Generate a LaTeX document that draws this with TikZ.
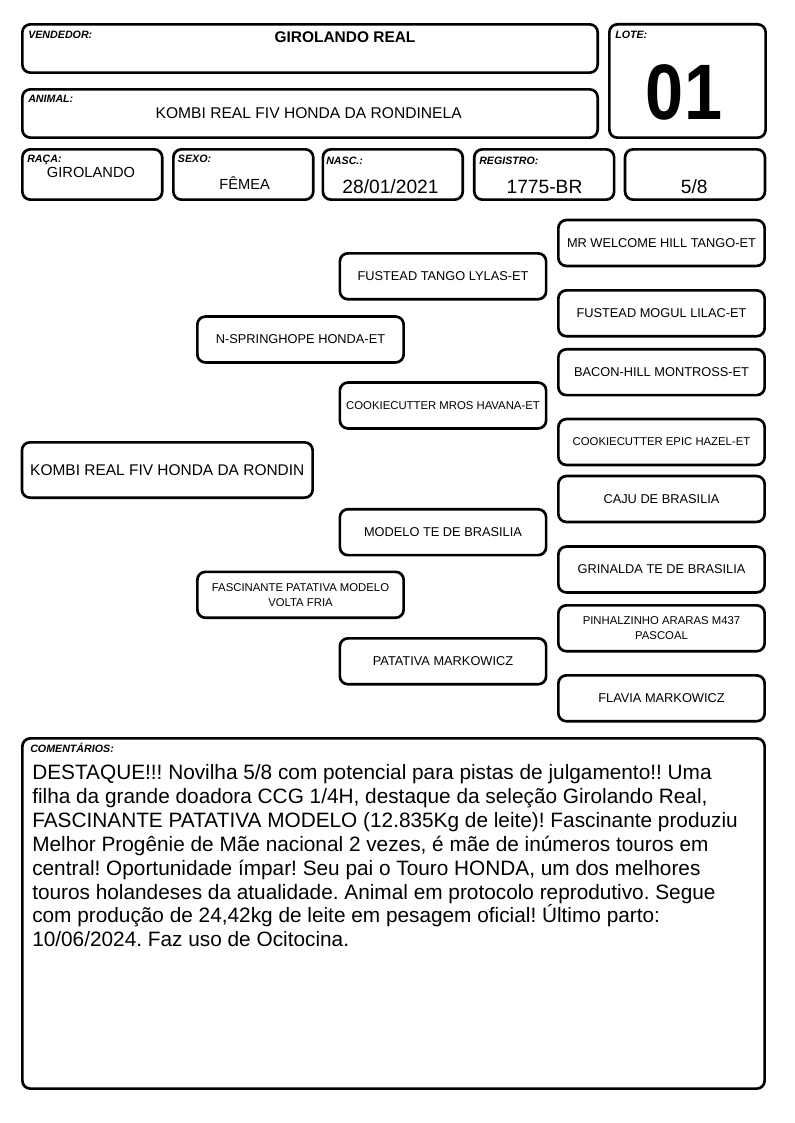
\documentclass[tikz,border=0pt]{standalone}
\usepackage{fontspec}
\setmainfont{Liberation Sans}
\usepackage{tikz}
\frenchspacing

\begin{document}
\begin{tikzpicture}[x=0.75pt,y=-0.75pt,
	feld/.style={draw, line width=2pt, rounded corners=6pt, inner sep=0pt},
	kopf/.style={feld, minimum width=431.5pt, minimum height=36.2pt},
	klein/.style={feld, minimum width=104.9pt, minimum height=37.7pt},
	ahne/.style={feld, minimum width=154.7pt, minimum height=34.4pt, align=center, font=\fontsize{9.6}{11.5}\selectfont},
	ahnek/.style={ahne, font=\fontsize{8.5}{11}\selectfont},
	titel/.style={anchor=base west, inner sep=0pt, font=\fontsize{8}{9}\selectfont\bfseries\itshape},
	wert/.style={anchor=base, inner sep=0pt}]
	
	\useasboundingbox (0,0) rectangle (794,1123);
	
	%Kopfzeile
	\node[kopf] (vend) at (310,48.5) {};
	\node[kopf] (anim) at (310,113.5) {};
	\node[feld, minimum width=117.2pt, minimum height=85pt] (lote) at (687.5,81) {};
	\node[titel] (tvend) at (28,39) {VENDEDOR:};
	\node[titel] (tanim) at (28,103) {ANIMAL:};
	\node[titel] (tlote) at (615,39) {LOTE:};
	\node[wert, font=\fontsize{11.6}{14}\selectfont\bfseries] (wvend) at (345,42.3) {GIROLANDO REAL};
	\node[wert, font=\fontsize{11.7}{14}\selectfont] (wanim) at (308.7,118.3) {KOMBI REAL FIV HONDA DA RONDINELA};
	\node[wert, font=\fontsize{59}{60}\selectfont\bfseries] (wlote) at (684,120) {\scalebox{0.87}[1]{01}};
	
	%Datenzeile
	\node[klein] (raca) at (92.3,174.5) {};
	\node[klein] (sexo) at (243.3,174.5) {};
	\node[klein] (nasc) at (392.8,174.5) {};
	\node[klein] (reg) at (544.2,174.5) {};
	\node[klein] (grau) at (695,174.5) {};
	\node[titel] (traca) at (27,162.3) {RAÇA:};
	\node[titel] (tsexo) at (177.7,162.3) {SEXO:};
	\node[titel] (tnasc) at (326,165) {NASC.:};
	\node[titel] (treg) at (479,165) {REGISTRO:};
	\node[wert, font=\fontsize{11}{13}\selectfont] (wraca) at (91,178) {GIROLANDO};
	\node[wert, font=\fontsize{11}{13}\selectfont] (wsexo) at (244.7,189.3) {FÊMEA};
	\node[wert, font=\fontsize{14.4}{17}\selectfont] (wnasc) at (390.5,193.3) {28/01/2021};
	\node[wert, font=\fontsize{14.4}{17}\selectfont] (wreg) at (544.5,193.3) {1775-BR};
	\node[wert, font=\fontsize{14.4}{17}\selectfont] (wgrau) at (694.2,193.3) {5/8};
	
	%Stammbaum
	\node[feld, minimum width=218pt, minimum height=41.5pt, font=\fontsize{11.6}{14}\selectfont] (tier) at (167.3,470) {KOMBI REAL FIV HONDA DA RONDIN};
	\node[ahne] (pai) at (300.5,339.5) {N-SPRINGHOPE HONDA-ET};
	\node[ahnek] (mae) at (300.5,594.8) {FASCINANTE PATATIVA MODELO\\VOLTA FRIA};
	\node[ahne] (avp) at (443,276.3) {FUSTEAD TANGO LYLAS-ET};
	\node[ahnek] (avap) at (443,405.5) {COOKIECUTTER MROS HAVANA-ET};
	\node[ahne] (avm) at (443,532.2) {MODELO TE DE BRASILIA};
	\node[ahne] (avam) at (443,661.3) {PATATIVA MARKOWICZ};
	\node[ahne] (b1) at (661.5,243) {MR WELCOME HILL TANGO-ET};
	\node[ahne] (b2) at (661.5,313.3) {FUSTEAD MOGUL LILAC-ET};
	\node[ahne] (b3) at (661.5,372.2) {BACON-HILL MONTROSS-ET};
	\node[ahnek] (b4) at (661.5,442) {COOKIECUTTER EPIC HAZEL-ET};
	\node[ahne] (b5) at (661.5,499) {CAJU DE BRASILIA};
	\node[ahne] (b6) at (661.5,569.5) {GRINALDA TE DE BRASILIA};
	\node[ahnek] (b7) at (661.5,628.3) {PINHALZINHO ARARAS M437\\PASCOAL};
	\node[ahne] (b8) at (661.5,698.3) {FLAVIA MARKOWICZ};
	
	%Kommentare
	\node[feld, minimum width=556.7pt, minimum height=262.7pt] (kom) at (393.5,913.5) {};
	\node[titel] (tkom) at (30,752.7) {COMENTÁRIOS:};
	\node[anchor=north west, inner sep=0pt, align=left, font=\fontsize{15.6}{17.9}\selectfont] (wkom) at (32,762.8) {\strut DESTAQUE!!! Novilha 5/8 com potencial para pistas de julgamento!! Uma\\
		filha da grande doadora CCG 1/4H, destaque da seleção Girolando Real,\\
		FASCINANTE PATATIVA MODELO (12.835Kg de leite)! Fascinante produziu\\
		Melhor Progênie de Mãe nacional 2 vezes, é mãe de inúmeros touros em\\
		central! Oportunidade ímpar! Seu pai o Touro HONDA, um dos melhores\\
		touros holandeses da atualidade. Animal em protocolo reprodutivo. Segue\\
		com produção de 24,42kg de leite em pesagem oficial! Último parto:\\
		10/06/2024. Faz uso de Ocitocina.};
	
\end{tikzpicture}
\end{document}
